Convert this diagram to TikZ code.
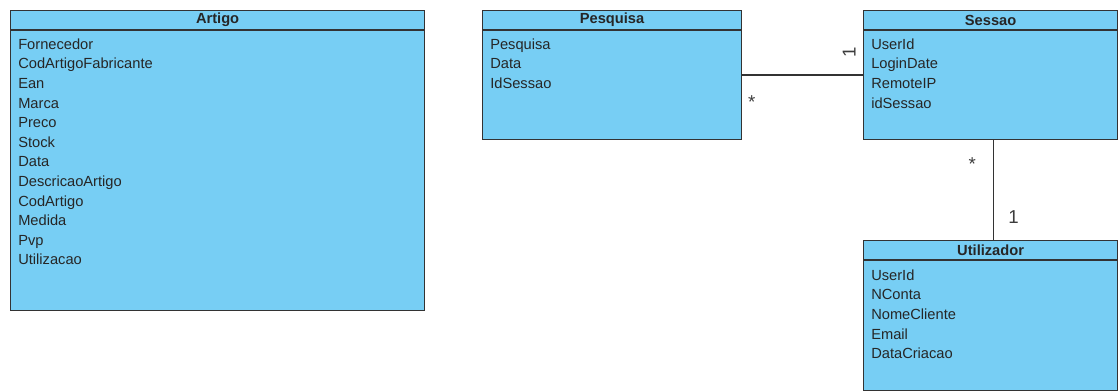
\documentclass[tikz,border=0pt]{standalone}
\usepackage{fontspec}
\setmainfont{Liberation Sans}
\usetikzlibrary{positioning}

\definecolor{classblue}{RGB}{119,206,244}
\definecolor{boxline}{RGB}{51,51,51}
\definecolor{multgray}{RGB}{60,60,60}

\tikzset{
  classbox/.style={draw=boxline, fill=classblue, line width=0.9pt, anchor=north west, inner sep=0pt},
  classname/.style={font=\bfseries\fontsize{11}{13}\selectfont, text=black!85},
  attrs/.style={anchor=north west, align=left, inner sep=0pt, font=\fontsize{11}{14.7}\selectfont, text=black!85},
  mult/.style={font=\fontsize{14}{16}\selectfont, text=multgray},
  assoc/.style={draw=boxline, line width=0.9pt}
}

\begin{document}
\begin{tikzpicture}[x=0.75pt, y=-0.75pt]
\useasboundingbox (0,0) rectangle (1118,391);

% class boxes
\node[classbox, minimum width=310.5pt, minimum height=225pt] (artigo) at (10,10) {};
\node[classbox, minimum width=194.25pt, minimum height=96.75pt] (pesquisa) at (482,10) {};
\node[classbox, minimum width=190.5pt, minimum height=96.75pt] (sessao) at (863,10) {};
\node[classbox, minimum width=190.5pt, minimum height=112.5pt] (utilizador) at (863,240) {};

% header separators
\draw[boxline, line width=0.9pt] ([yshift=-15pt]artigo.north west) -- ([yshift=-15pt]artigo.north east);
\draw[boxline, line width=0.9pt] ([yshift=-15pt]pesquisa.north west) -- ([yshift=-15pt]pesquisa.north east);
\draw[boxline, line width=0.9pt] ([yshift=-15pt]sessao.north west) -- ([yshift=-15pt]sessao.north east);
\draw[boxline, line width=0.9pt] ([yshift=-15pt]utilizador.north west) -- ([yshift=-15pt]utilizador.north east);

% class names
\node[classname] (artigo-name) at ([yshift=-7.5pt]artigo.north) {Artigo};
\node[classname] (pesquisa-name) at ([yshift=-7.5pt]pesquisa.north) {Pesquisa};
\node[classname] (sessao-name) at ([yshift=-7.5pt]sessao.north) {Sessao};
\node[classname] (utilizador-name) at ([yshift=-7.5pt]utilizador.north) {Utilizador};

% attributes
\node[attrs] (artigo-attrs) at (18,38.5) {Fornecedor\\CodArtigoFabricante\\Ean\\Marca\\Preco\\Stock\\Data\\DescricaoArtigo\\CodArtigo\\Medida\\Pvp\\Utilizacao};
\node[attrs] (pesquisa-attrs) at (490,38.5) {Pesquisa\\Data\\IdSessao};
\node[attrs] (sessao-attrs) at (871,38.5) {UserId\\LoginDate\\RemoteIP\\idSessao};
\node[attrs] (utilizador-attrs) at (871,269.5) {UserId\\NConta\\NomeCliente\\Email\\DataCriacao};

% associations
\draw[assoc] (pesquisa) -- (sessao)
  node[mult, pos=0.08, yshift=-20pt] (m1) {*}
  node[mult, pos=0.885, yshift=17pt, rotate=90] (m2) {1};
\draw[assoc] ([xshift=2.25pt]sessao.south) -- ([xshift=2.25pt]utilizador.north)
  node[mult, pos=0.2, xshift=-16pt, yshift=-3pt] (m3) {*}
  node[mult, pos=0.77, xshift=15pt] (m4) {1};
\end{tikzpicture}
\end{document}
